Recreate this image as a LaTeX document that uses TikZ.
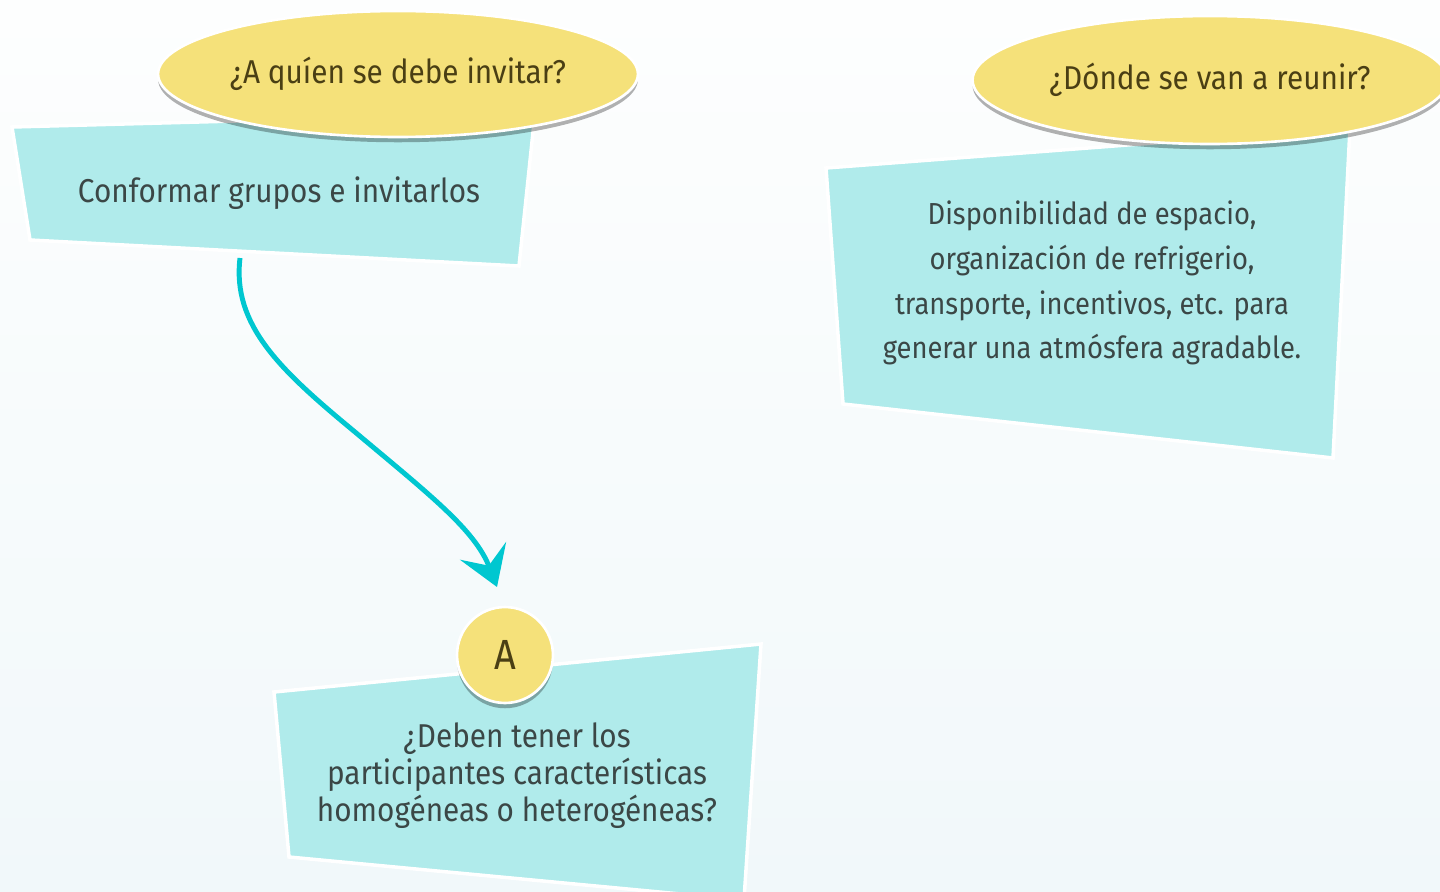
\documentclass[tikz,border=0pt]{standalone}
\usepackage{fontspec}
\setmainfont{Fira Sans}[FakeStretch=0.9]
\usetikzlibrary{shapes.geometric,shadows,arrows.meta}

\definecolor{cardcyan}{HTML}{B0EBEB}
\definecolor{tagyellow}{HTML}{F5E17A}
\definecolor{arrowcyan}{HTML}{00C7D0}
\definecolor{bodytext}{HTML}{3B4746}
\definecolor{tagtext}{HTML}{4A3F14}
\definecolor{bgtop}{HTML}{FDFEFE}
\definecolor{bgbottom}{HTML}{F1F8FA}

\tikzset{
    card/.style={fill=cardcyan, draw=white, line width=2pt, line join=miter},
    tag/.style={ellipse, fill=tagyellow, draw=white, line width=1.5pt, text=tagtext, inner sep=0pt,
        drop shadow={shadow xshift=0pt, shadow yshift=-3pt, opacity=0.3, fill=black},
        font=\fontsize{18.8}{22}\selectfont},
    cardtext/.style={text=bodytext, align=center},
    flow/.style={draw=arrowcyan, line width=2.8pt, -{Stealth[length=22pt, width=28pt, inset=9pt]}},
}

\begin{document}
\begin{tikzpicture}[x=0.02cm, y=-0.02cm]
    % Background
    \shade[top color=bgtop, bottom color=bgbottom] (0,0) rectangle (1440,892);
    \useasboundingbox (0,0) rectangle (1440,892);

    % Cards
    \filldraw[card] (12,127) -- (535,113) -- (519,266) -- (30,240) -- cycle;
    \filldraw[card] (826,168) -- (1350,128) -- (1333,458) -- (843,404) -- cycle;
    \filldraw[card] (274,692) -- (761,644) -- (744,900) -- (289,857) -- cycle;

    % Card texts
    \node[cardtext, font=\fontsize{18.8}{22}\selectfont] (grupos) at (279,193) {Conformar grupos e invitarlos};
    \node[cardtext, font=\fontsize{17.3}{25.5}\selectfont] (espacio) at (1092,283)
        {Disponibilidad de espacio,\\ organización de refrigerio,\\ transporte, incentivos, etc. para\\ generar una atmósfera agradable.};
    \node[cardtext, font=\fontsize{18.8}{21}\selectfont] (perfil) at (517,776)
        {¿Deben tener los\\ participantes características\\ homogéneas o heterogéneas?};

    % Tags
    \node[tag, minimum width=9.6cm, minimum height=2.52cm] (quien) at (398,74) {¿A quíen se debe invitar?};
    \node[tag, minimum width=9.5cm, minimum height=2.56cm] (donde) at (1210,80) {¿Dónde se van a reunir?};
    \node[tag, circle, minimum size=1.92cm, font=\fontsize{24}{24}\selectfont] (letraA) at (505,655) {A};

    % Arrow
    \coordinate (salida) at (240,258);
    \coordinate (llegada) at (497,587);
    \draw[flow] (salida) .. controls (232,325) and (280,370) .. (355,432)
        .. controls (430,495) and (475,530) .. (llegada);
\end{tikzpicture}
\end{document}
